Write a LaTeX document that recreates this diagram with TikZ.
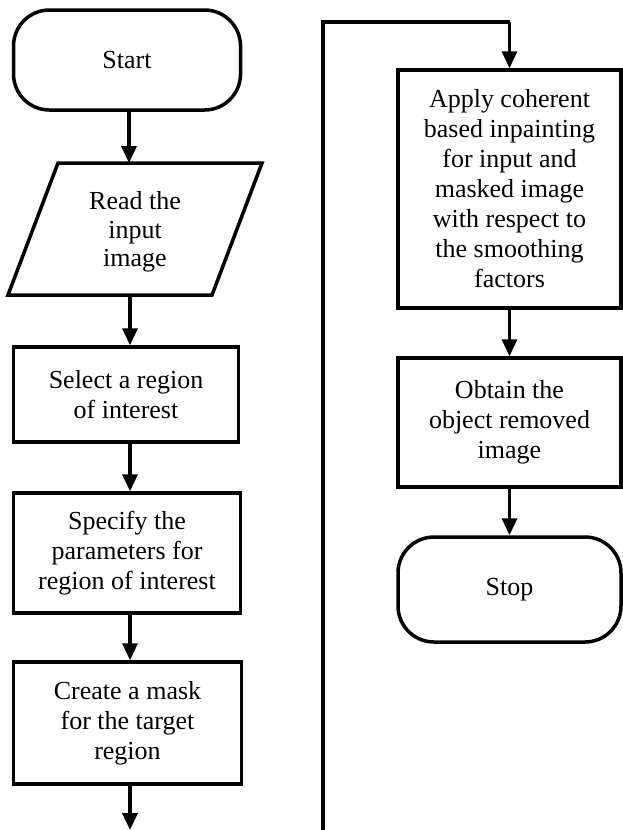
\documentclass[tikz,border=0pt]{standalone}
\usepackage{fontspec}
\setmainfont{Liberation Serif}
\usetikzlibrary{arrows.meta}
\begin{document}
\begin{tikzpicture}[x=1pt,y=-1pt,
  outline/.style={draw=black,line width=3.5pt,fill=white},
  procbox/.style={outline,rectangle,align=center,inner sep=0pt,
    font=\fontsize{26}{30}\selectfont},
  termbox/.style={procbox,rounded corners=36pt},
  txt/.style={align=center,inner sep=0pt,font=\fontsize{26}{28.5}\selectfont},
  arr/.style={line width=3.5pt,-{Triangle[width=15pt,length=17pt]}},
  loopline/.style={line width=3.5pt}]
\useasboundingbox (0,0) rectangle (623,830);
% left column
\node[termbox,minimum width=227pt,minimum height=100pt] (start) at (127,60) {Start};
\draw[outline] (8,295) -- (58,163) -- (262,163) -- (212,295) -- cycle;
\node[txt] (read) at (135,232) {Read the\\input\\image};
\coordinate (readtop) at (129,163);
\coordinate (readbot) at (130,295);
\node[procbox,minimum width=225pt,minimum height=95pt] (sel) at (126,394.5) {Select a region\\of interest};
\node[procbox,minimum width=227pt,minimum height=120pt] (spec) at (127,553) {Specify the\\parameters for\\region of interest};
\node[procbox,minimum width=228pt,minimum height=122pt] (mask) at (127.5,723) {Create a mask\\for the target\\region};
\coordinate (leftend) at (130,830);
\draw[arr] (start.south -| readtop) -- (readtop);
\draw[arr] (readbot) -- (readbot |- sel.north);
\draw[arr] (sel.south -| readbot) -- (readbot |- spec.north);
\draw[arr] (spec.south -| readbot) -- (readbot |- mask.north);
\draw[arr] (mask.south -| leftend) -- (leftend);
% right column
\node[procbox,minimum width=223pt,minimum height=238pt] (apply) at (509.5,189) {Apply coherent\\based inpainting\\for input and\\masked image\\with respect to\\the smoothing\\factors};
\node[procbox,minimum width=223pt,minimum height=129pt] (obtain) at (509.5,422.5) {Obtain the\\object removed\\image};
\node[termbox,minimum width=223pt,minimum height=105pt] (stop) at (509.5,589.5) {Stop};
\coordinate (loopbot) at (323,831);
\coordinate (looptop) at (323,22);
\draw[loopline] (loopbot) -- (looptop) -- (looptop -| apply.north);
\draw[arr] (looptop -| apply.north) -- (apply.north);
\draw[arr] (apply.south) -- (obtain.north);
\draw[arr] (obtain.south) -- (stop.north);
\end{tikzpicture}
\end{document}
